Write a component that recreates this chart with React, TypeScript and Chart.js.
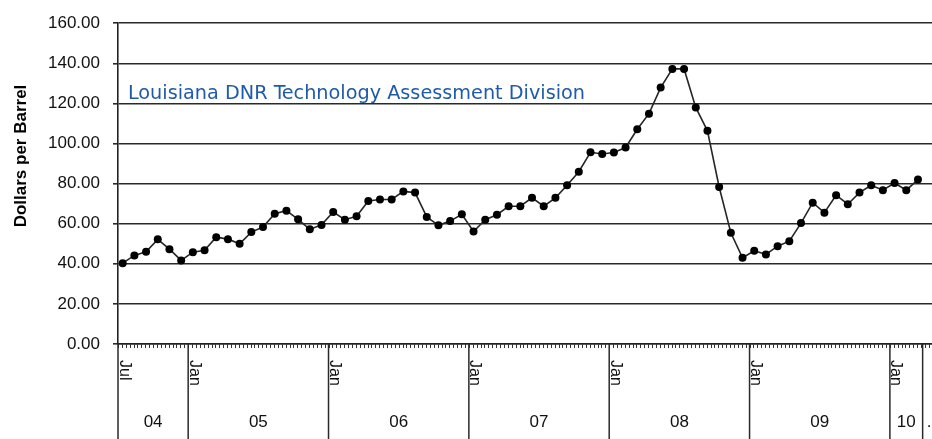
import React, { useEffect, useRef } from "react";
import { Chart, registerables } from "chart.js";

Chart.register(...registerables);

// Monthly price, Dollars per Barrel (Jul 2004 - Mar 2010)
const prices2004 = [40.3, 44.2, 46.0, 52.2, 47.3, 41.7];
const prices2005 = [45.8, 46.7, 53.3, 52.3, 50.0, 55.8, 58.3, 65.0, 66.5, 62.2, 57.2, 59.4];
const prices2006 = [65.8, 62.0, 63.7, 71.3, 72.1, 72.1, 76.1, 75.5, 63.4, 59.2, 61.3, 64.7];
const prices2007 = [56.1, 62.0, 64.5, 68.7, 68.7, 72.9, 68.7, 72.9, 79.2, 85.9, 95.6, 94.8];
const prices2008 = [95.5, 98.0, 107.1, 114.9, 127.9, 137.2, 137.2, 118.0, 106.3, 78.3, 55.5, 43.0];
const prices2009 = [46.5, 44.7, 48.8, 51.3, 60.3, 70.5, 65.5, 74.2, 69.7, 75.5, 79.2, 76.7];
const prices2010 = [80.3, 76.7, 82.0];

const prices = [
  ...prices2004,
  ...prices2005,
  ...prices2006,
  ...prices2007,
  ...prices2008,
  ...prices2009,
  ...prices2010,
];

// x axis in months counted from Jul 2004
const groupStarts = [0, 6, 18, 30, 42, 54, 66];
const groupEnd = 68.8;
const monthLabels = ["Jul", "Jan", "Jan", "Jan", "Jan", "Jan", "Jan"];
const yearLabels = ["04", "05", "06", "07", "08", "09", "10"];
const xMax = 69.6;
const pointOffset = 0.4;

const yTicksMin = 0;
const yTicksMax = 160;
const yStep = 20;

const yTitle = "Dollars per Barrel";
const noteText = "Louisiana DNR Technology Assessment Division";

const FONT = '"Liberation Sans", Arial, Helvetica, sans-serif';

const decorPlugin = {
  id: "decor",
  afterDraw(chart: any) {
    const ctx = chart.ctx as CanvasRenderingContext2D;
    const xs = chart.scales.x;
    const area = chart.chartArea;
    const H = chart.height;
    const bottom = area.bottom;
    ctx.save();

    // minor ticks
    ctx.strokeStyle = "#333";
    ctx.lineWidth = 1;
    for (let m = 0; m <= xMax + 0.001; m += 1 / 3) {
      const x = Math.round(xs.getPixelForValue(m)) + 0.5;
      ctx.beginPath();
      ctx.moveTo(x, bottom);
      ctx.lineTo(x, bottom + 4);
      ctx.stroke();
    }

    // group separators
    ctx.strokeStyle = "#2a2a2a";
    ctx.lineWidth = 1.5;
    [...groupStarts, groupEnd].forEach((g) => {
      const x = xs.getPixelForValue(g);
      ctx.beginPath();
      ctx.moveTo(x, bottom);
      ctx.lineTo(x, H);
      ctx.stroke();
    });

    // month labels (rotated)
    ctx.fillStyle = "#111";
    ctx.font = `16px ${FONT}`;
    groupStarts.forEach((g, i) => {
      const x = xs.getPixelForValue(g);
      ctx.save();
      ctx.translate(x + 1.5, bottom + 16);
      ctx.rotate(Math.PI / 2);
      ctx.textAlign = "left";
      ctx.textBaseline = "alphabetic";
      ctx.fillText(monthLabels[i], 0, 0);
      ctx.restore();
    });

    // year labels
    ctx.font = `17px ${FONT}`;
    ctx.textAlign = "center";
    ctx.textBaseline = "alphabetic";
    const ends = [...groupStarts.slice(1), groupEnd];
    groupStarts.forEach((g, i) => {
      const cx = (xs.getPixelForValue(g) + xs.getPixelForValue(ends[i])) / 2;
      ctx.fillText(yearLabels[i], cx, bottom + 83);
    });
    ctx.textAlign = "left";
    ctx.fillText(".", xs.getPixelForValue(groupEnd) + 4, bottom + 83);

    // y title
    ctx.save();
    ctx.font = `bold 17px ${FONT}`;
    ctx.fillStyle = "#000";
    ctx.translate(26, 156);
    ctx.rotate(-Math.PI / 2);
    ctx.textAlign = "center";
    ctx.textBaseline = "alphabetic";
    ctx.fillText(yTitle, 0, 0);
    ctx.restore();

    // note
    ctx.save();
    ctx.font = `20px "DejaVu Sans Condensed", "DejaVu Sans", sans-serif`;
    ctx.fillStyle = "#1f5ba8";
    ctx.textAlign = "left";
    ctx.textBaseline = "alphabetic";
    const w = ctx.measureText(noteText).width;
    const target = 457;
    ctx.translate(area.left + 10, 99);
    ctx.scale(target / w, 1);
    ctx.fillText(noteText, 0, 0);
    ctx.restore();

    ctx.restore();
  },
};

export default function App() {
  const ref = useRef<HTMLCanvasElement | null>(null);

  useEffect(() => {
    document.body.style.margin = "0";
    const canvas = ref.current;
    if (!canvas) return;
    const chart = new Chart(canvas, {
      type: "line",
      data: {
        datasets: [
          {
            data: prices.map((v, i) => ({ x: i + pointOffset, y: v })),
            borderColor: "#262626",
            borderWidth: 1.6,
            pointRadius: 4,
            pointBackgroundColor: "#000",
            pointBorderColor: "#000",
            pointBorderWidth: 0,
            tension: 0,
            fill: false,
            clip: false,
          },
        ],
      },
      options: {
        animation: false,
        responsive: false,
        maintainAspectRatio: false,
        layout: { autoPadding: false, padding: { top: 21, left: 0, right: 0, bottom: 0 } },
        plugins: {
          legend: { display: false },
          tooltip: { enabled: false },
          title: { display: false },
        },
        scales: {
          x: {
            type: "linear",
            min: 0,
            max: xMax,
            ticks: { display: false },
            grid: { display: false, drawTicks: false },
            border: { display: true, color: "#222", width: 1.5 },
            afterFit: (s: any) => {
              s.height = 95;
            },
          },
          y: {
            min: yTicksMin,
            max: yTicksMax,
            ticks: {
              stepSize: yStep,
              callback: (v: any) => Number(v).toFixed(2),
              font: { family: FONT, size: 17 },
              color: "#111",
              padding: 13,
            },
            grid: { color: "#2a2a2a", lineWidth: 1.6, tickLength: 5, drawTicks: true },
            border: { color: "#222", width: 1.6 },
            afterFit: (s: any) => {
              s.width = 118;
            },
          },
        },
      },
      plugins: [decorPlugin],
    });
    return () => chart.destroy();
  }, []);

  return (
    <div style={{ width: 932, height: 439, overflow: "hidden", background: "#fff" }}>
      <canvas ref={ref} width={932} height={439} style={{ display: "block", width: 932, height: 439 }} />
    </div>
  );
}
